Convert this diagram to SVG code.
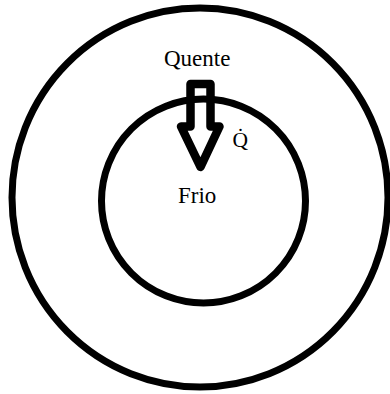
<svg xmlns="http://www.w3.org/2000/svg" width="390" height="394" viewBox="0 0 390 394">
  <style>
    .ring { fill: none; stroke: #000; stroke-width: 7; }
    .lbl { font-family: "Liberation Serif", "Times New Roman", serif; fill: #000; }
    .blockarrow { fill: none; stroke: #000; stroke-width: 8.5; stroke-linejoin: round; }
  </style>
  <rect width="390" height="394" fill="#fff"/>
  <g id="outer">
    <ellipse class="ring" cx="200" cy="197.5" rx="188" ry="189.5"/>
    <text class="lbl" x="164" y="66" font-size="23">Quente</text>
  </g>
  <g id="inner">
    <circle class="ring" cx="203.5" cy="201" r="102"/>
    <text class="lbl" x="178" y="203" font-size="23">Frio</text>
  </g>
  <g id="connectors">
    <path class="blockarrow" d="M190.5,84 L210.5,84 L210.5,126.5 L219.5,126.5 L200.5,167 L181,126.5 L190.5,126.5 Z"/>
    <text class="lbl" x="232.5" y="147" font-size="21.5">Q̇</text>
  </g>
</svg>
